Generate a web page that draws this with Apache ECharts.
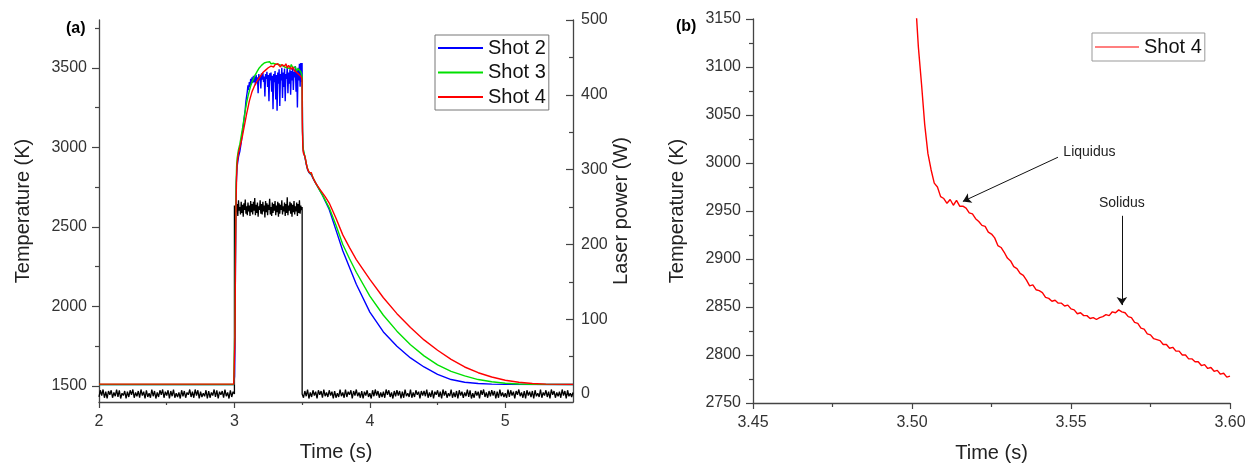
<!DOCTYPE html>
<html><head><meta charset="utf-8">
<script src="https://cdn.jsdelivr.net/npm/echarts@6/dist/echarts.min.js"></script>
<style>html,body{margin:0;padding:0;background:#fff}#c{width:1257px;height:463px}</style>
</head><body><div id="c"></div>
<script>
// ---------- DATA ----------
// Panel (a): temperature (K) vs time (s)
const shot2 = [[2.0,1509],[2.995,1509],[3.0,1510],[3.001,1560],[3.004,1750],[3.007,2200],[3.01,2550],[3.014,2780],[3.02,2880],[3.03,2940],[3.04,2975],[3.05,3030],[3.06,3100],[3.07,3170],[3.08,3240],[3.085,3290],
[3.090,3300],[3.095,3350],[3.100,3390],[3.105,3360],[3.110,3410],[3.115,3380],[3.120,3430],[3.125,3395],[3.130,3440],[3.135,3405],[3.140,3450],[3.145,3410],[3.150,3445],[3.155,3390],[3.160,3455],[3.165,3415],[3.170,3440],[3.175,3340],[3.180,3460],[3.185,3420],[3.190,3450],[3.195,3370],[3.200,3465],[3.205,3425],[3.210,3470],[3.215,3410],[3.220,3445],[3.225,3320],[3.230,3460],[3.235,3430],[3.240,3475],[3.245,3380],[3.250,3455],[3.255,3290],[3.260,3465],[3.265,3420],[3.270,3470],[3.275,3350],[3.280,3450],[3.285,3240],[3.290,3460],[3.295,3410],[3.300,3480],[3.305,3300],[3.310,3455],[3.315,3230],[3.320,3470],[3.325,3400],[3.330,3490],[3.335,3260],[3.340,3460],[3.345,3420],[3.350,3500],[3.355,3310],[3.360,3470],[3.365,3380],[3.370,3495],[3.375,3290],[3.380,3460],[3.385,3430],[3.390,3505],[3.395,3340],[3.400,3470],[3.405,3400],[3.410,3490],[3.415,3330],[3.420,3480],[3.425,3420],[3.430,3500],[3.435,3360],[3.440,3475],[3.445,3440],[3.450,3510],[3.455,3350],[3.460,3490],[3.465,3250],[3.470,3500],[3.475,3420],[3.480,3525],[3.485,3380],[3.490,3530],[3.495,3410],[3.4995,3530],
[3.503,3100],[3.506,3005],[3.51,2975],[3.515,2955],[3.52,2940],[3.53,2895],[3.54,2860],[3.55,2842],[3.56,2833],[3.57,2825],[3.58,2805],[3.60,2775],[3.65,2700],[3.70,2610],[3.75,2480],[3.80,2350],[3.85,2245],[3.90,2140],[4.0,1965],[4.1,1840],[4.2,1750],[4.3,1677],[4.4,1620],[4.5,1574],[4.6,1541],[4.7,1524],[4.8,1516],[4.9,1512],[5.0,1511],[5.5,1510]];

const shot3 = [[2.0,1510],[2.995,1510],[3.0,1512],[3.004,1900],[3.008,2450],[3.012,2750],[3.016,2880],[3.02,2930],[3.03,2985],[3.04,3020],[3.05,3070],[3.06,3120],[3.07,3175],[3.08,3230],[3.09,3280],[3.10,3320],[3.11,3355],[3.12,3385],[3.13,3410],[3.14,3430],[3.15,3450],[3.16,3465],[3.17,3480],[3.18,3495],[3.19,3500],[3.20,3515],[3.21,3520],[3.22,3530],[3.23,3525],[3.24,3535],[3.25,3530],[3.26,3538],[3.27,3525],[3.28,3535],[3.29,3528],[3.30,3536],[3.31,3522],[3.32,3532],[3.33,3520],[3.34,3528],[3.35,3515],[3.36,3525],[3.37,3505],[3.38,3515],[3.39,3500],[3.40,3510],[3.41,3495],[3.42,3520],[3.43,3500],[3.44,3490],[3.45,3505],[3.46,3480],[3.47,3495],[3.48,3505],[3.49,3475],[3.4995,3450],
[3.503,3100],[3.506,3010],[3.51,2980],[3.515,2960],[3.52,2945],[3.53,2900],[3.54,2865],[3.55,2845],[3.56,2835],[3.57,2830],[3.58,2810],[3.60,2775],[3.65,2700],[3.70,2620],[3.75,2510],[3.80,2390],[3.85,2300],[3.90,2215],[4.0,2065],[4.1,1945],[4.2,1845],[4.3,1760],[4.4,1690],[4.5,1633],[4.6,1592],[4.7,1564],[4.8,1541],[4.9,1527],[5.0,1518],[5.1,1513],[5.2,1511],[5.5,1510]];

const shot4Heat = [[2.0,1512],[2.5,1512],[2.995,1512],[3.0,1515],[3.004,1800],[3.008,2300],[3.012,2650],[3.016,2820],[3.02,2900],[3.03,2965],[3.04,3000],[3.05,3035],[3.06,3075],[3.07,3120],[3.08,3165],[3.09,3210],[3.10,3250],[3.11,3290],[3.12,3320],[3.13,3350],[3.14,3370],[3.15,3390],[3.16,3405],[3.17,3420],[3.18,3425],[3.19,3445],[3.20,3450],[3.21,3470],[3.22,3465],[3.23,3485],[3.24,3490],[3.25,3500],[3.26,3495],[3.27,3510],[3.28,3515],[3.29,3505],[3.30,3520],[3.31,3510],[3.32,3525],[3.33,3515],[3.34,3505],[3.35,3520],[3.36,3530],[3.37,3510],[3.38,3525],[3.39,3500],[3.40,3515],[3.41,3505],[3.42,3490],[3.43,3505],[3.44,3485],[3.45,3495],[3.46,3470],[3.47,3480],[3.48,3455],[3.49,3465],[3.495,3440],[3.4995,3420]];
const shot4Cool = [[3.61,2762],[3.62,2750],[3.63,2738],[3.65,2714],[3.67,2690],[3.70,2650],[3.75,2555],[3.80,2450],[3.85,2370],[3.90,2295],[4.0,2170],[4.1,2055],[4.2,1955],[4.3,1868],[4.4,1790],[4.5,1725],[4.6,1668],[4.7,1620],[4.8,1584],[4.9,1557],[5.0,1537],[5.1,1524],[5.2,1516],[5.3,1512],[5.5,1511]];

// Shot 4 detail, sampled every 1 ms from 3.500 s (panel b)
const shot4DetailStart = 3.5, shot4DetailStep = 0.001;
const shot4Detail = [3260,3175,3121,3082,3040,3010,2993,2979,2975,2965,2963,2958,2962,2956,2961,2955,2955,2953,2948,2947,2942,2939,2935,2934,2928,2926,2922,2914,2912,2907,2901,2898,2892,2890,2885,2883,2878,2872,2873,2868,2867,2865,2860,2859,2856,2857,2854,2854,2851,2852,2848,2847,2843,2844,2841,2841,2838,2839,2837,2839,2840,2842,2841,2845,2844,2847,2845,2844,2840,2839,2834,2833,2828,2827,2822,2821,2817,2816,2815,2811,2811,2807,2808,2804,2804,2800,2800,2796,2796,2793,2793,2789,2790,2786,2787,2783,2784,2780,2781,2777,2778];

// Laser power (W), sampled on regular time grids
const laserOff1 = {start:2.0, step:0.01, values:[
-4,5,-2,6,-5,3,-6,4,-1,5, -5,2,-3,6,-4,5,-6,1,-2,4, -6,3,-4,5,-1,6,-5,2,-3,4, -5,6,-2,3,-6,5,-4,1,-5,6, -3,4,-6,2,-4,5,-1,6,-5,3,
-2,5,-6,4,-3,6,-5,1,-4,2, -6,5,-3,4,-5,2,-1,6,-4,3, -5,6,-2,5,-6,3,-4,1,-3,5, -6,4,-5,2,-2,6,-4,5,-6,3, -1,4,-5,6,-3,2,-6,5,-4,3, 0]};
const laserOn = {start:3.0, step:0.005, values:[
252,241,256,243,254,238,259,245,250,240, 257,242,253,237,255,246,260,241,251,239, 256,244,252,238,258,243,254,240,257,245, 262,239,253,242,256,237,251,246,259,241, 254,240,257,244,252,236,258,243,255,239,
253,246,261,240,250,238,256,242,254,245, 258,239,252,243,257,237,255,241,253,246, 259,240,251,244,256,238,254,242,263,239, 252,245,257,241,255,237,253,243,258,240, 251,244,256,238,254,242,259,241,252,246, 250]};
const laserOff2 = {start:3.5, step:0.01, values:[
0,-5,4,-3,6,-6,2,-4,5,-2, 3,-6,5,-1,4,-5,6,-3,2,-4, 5,-2,3,-6,4,-5,1,-4,6,-3, 2,-5,6,-4,3,-1,5,-6,4,-2, 6,-3,2,-5,4,-6,3,-2,5,-4,
1,-6,5,-3,6,-2,4,-5,2,-4, 3,-5,6,-1,5,-4,2,-6,4,-3, 5,-2,4,-6,3,-5,6,-3,1,-4, 6,-5,2,-4,5,-1,3,-6,4,-2, 4,-3,6,-5,2,-4,5,-6,3,-1,
5,-4,3,-6,6,-2,4,-5,1,-3, 6,-5,2,-4,4,-6,5,-2,3,-5, 2,-3,6,-4,5,-6,1,-5,4,-2, 3,-6,5,-1,6,-4,2,-5,4,-3, 5,-2,4,-6,3,-5,6,-3,2,-4,
1,-5,6,-4,5,-2,3,-6,4,-1, 6,-3,2,-5,4,-6,5,-2,3,-4, 4,-6,5,-3,1,-4,6,-5,2,-2, 5,-4,3,-6,6,-1,4,-5,2,-3, 3,-5,6,-2,4,-6,5,-3,1,-4, 2]};

// Tick labels
const xTicksA = [2,3,4,5], xMinorA = [2.5,3.5,4.5];
const yTicksA = [1500,2000,2500,3000,3500], yMinorA = [1750,2250,2750,3250,3750];
const pTicksA = [0,100,200,300,400,500], pMinorA = [50,150,250,350,450];

// Annotations (panel b)
const liquidusArrow = [[3.5459,3006],[3.5160,2960]];
const solidusArrow = [[3.5660,2945],[3.5660,2852]];
const liquidusText = [3.5558,3011];
const solidusText = [3.5660,2958];

// ---------- BUILD ----------
const grid = (arr) => arr.values.map((v,i)=>[+(arr.start+i*arr.step).toFixed(4), v]);
const laser = grid(laserOff1).concat(grid(laserOn), grid(laserOff2));
const detail = shot4Detail.map((v,i)=>[+(shot4DetailStart+i*shot4DetailStep).toFixed(4), v]);
const shot4A = shot4Heat.concat(detail, shot4Cool);

const FONT = 'Liberation Sans, Arial, sans-serif';
const AX = '#444';
const LBL = {fontSize:16, color:'#333', fontFamily:FONT, formatter:(v)=>String(v)};
const NAME = {fontSize:20, color:'#222', fontFamily:FONT};

const chart = echarts.init(document.getElementById('c'), null, {renderer:'canvas'});
chart.setOption({
  animation:false,
  backgroundColor:'#fff',
  textStyle:{fontFamily:FONT},
  title:[
    {text:'(a)', left:61, top:16, textStyle:{fontSize:16, fontWeight:'bold', color:'#000', fontFamily:FONT}},
    {text:'(b)', left:671, top:14, textStyle:{fontSize:16, fontWeight:'bold', color:'#000', fontFamily:FONT}}
  ],
  grid:[
    {left:99, right:684, top:20, bottom:61, outerBoundsMode:'none', containLabel:false},
    {left:753, right:27, top:19, bottom:60, outerBoundsMode:'none', containLabel:false}
  ],
  legend:[
    {data:['Shot 2','Shot 3','Shot 4'], orient:'vertical', left:435, top:35, icon:'rect', itemWidth:45, itemHeight:2, itemGap:0.5,
     padding:[1,3,1,3], borderColor:'#777', borderWidth:1, backgroundColor:'#fff',
     textStyle:{fontSize:20, color:'#111', fontFamily:FONT, lineHeight:24}, selectedMode:false},
    {data:['Shot 4'], orient:'vertical', left:1092, top:33, icon:'rect', itemWidth:44, itemHeight:1.2,
     padding:[2,3,2,3], borderColor:'#999', borderWidth:1, backgroundColor:'#fff',
     textStyle:{fontSize:20, color:'#111', fontFamily:FONT, lineHeight:24}, selectedMode:false}
  ],
  xAxis:[
    {gridIndex:0, type:'value', position:'bottom', min:2, max:5.5,
     axisLine:{show:true, onZero:false, lineStyle:{color:AX, width:1.3}},
     axisTick:{show:true, customValues:xTicksA, length:6, lineStyle:{color:AX, width:1.2}},
     axisLabel:{customValues:xTicksA, margin:12, ...LBL},
     splitLine:{show:false},
     name:'Time (s)', nameLocation:'middle', nameGap:40, nameTextStyle:NAME},
    {gridIndex:0, type:'value', position:'bottom', min:2, max:5.5,
     axisLine:{show:false, onZero:false}, axisLabel:{show:false}, splitLine:{show:false},
     axisTick:{show:true, customValues:xMinorA, length:3, lineStyle:{color:AX, width:1.2}}},
    {gridIndex:1, type:'value', position:'bottom', min:3.45, max:3.60, interval:0.05,
     axisLine:{show:true, onZero:false, lineStyle:{color:AX, width:1.3}},
     axisTick:{show:true, length:6, lineStyle:{color:AX, width:1.2}},
     minorTick:{show:true, splitNumber:2, length:4, lineStyle:{color:AX, width:1.2}},
     axisLabel:{margin:12, ...LBL, formatter:(v)=>v.toFixed(2)},
     splitLine:{show:false},
     name:'Time (s)', nameLocation:'middle', nameGap:40, nameTextStyle:NAME}
  ],
  yAxis:[
    {gridIndex:0, type:'value', min:1400, max:3800, position:'left',
     axisLine:{show:true, onZero:false, lineStyle:{color:AX, width:1.3}},
     axisTick:{show:true, customValues:yTicksA, length:7, lineStyle:{color:AX, width:1.2}},
     axisLabel:{customValues:yTicksA, margin:12, ...LBL},
     splitLine:{show:false},
     name:'Temperature (K)', nameLocation:'middle', nameRotate:90, nameGap:66, nameTextStyle:NAME},
    {gridIndex:0, type:'value', min:1400, max:3800, position:'left',
     axisLine:{show:false, onZero:false}, axisLabel:{show:false}, splitLine:{show:false},
     axisTick:{show:true, customValues:yMinorA, length:4, lineStyle:{color:AX, width:1.2}}},
    {gridIndex:0, type:'value', min:-10.7, max:500, position:'right',
     axisLine:{show:true, onZero:false, lineStyle:{color:AX, width:1.3}},
     axisTick:{show:true, inside:true, customValues:pTicksA, length:7, lineStyle:{color:AX, width:1.2}},
     axisLabel:{customValues:pTicksA, margin:8, ...LBL},
     splitLine:{show:false},
     name:'Laser power (W)', nameLocation:'middle', nameRotate:90, nameGap:38, nameTextStyle:NAME},
    {gridIndex:0, type:'value', min:-10.7, max:500, position:'right',
     axisLine:{show:false, onZero:false}, axisLabel:{show:false}, splitLine:{show:false},
     axisTick:{show:true, inside:true, customValues:pMinorA, length:4, lineStyle:{color:AX, width:1.2}}},
    {gridIndex:1, type:'value', min:2750, max:3150, interval:50, position:'left',
     axisLine:{show:true, onZero:false, lineStyle:{color:AX, width:1.3}},
     axisTick:{show:true, length:7, lineStyle:{color:AX, width:1.2}},
     minorTick:{show:true, splitNumber:2, length:4, lineStyle:{color:AX, width:1.2}},
     axisLabel:{margin:12, ...LBL},
     splitLine:{show:false},
     name:'Temperature (K)', nameLocation:'middle', nameRotate:90, nameGap:66, nameTextStyle:NAME}
  ],
  series:[
    {name:'Laser', type:'line', xAxisIndex:0, yAxisIndex:2, data:laser, symbol:'none',
     lineStyle:{color:'#000', width:1.3}, itemStyle:{color:'#000'}, silent:true, z:1},
    {name:'Shot 2', type:'line', xAxisIndex:0, yAxisIndex:0, data:shot2, symbol:'none',
     lineStyle:{color:'#0000ff', width:1.4}, itemStyle:{color:'#0000ff'}, z:2},
    {name:'Shot 3', type:'line', xAxisIndex:0, yAxisIndex:0, data:shot3, symbol:'none',
     lineStyle:{color:'#00e000', width:1.4}, itemStyle:{color:'#00e000'}, z:3},
    {name:'Shot 4', type:'line', xAxisIndex:0, yAxisIndex:0, data:shot4A, symbol:'none',
     lineStyle:{color:'#ff0000', width:1.4}, itemStyle:{color:'#ff0000'}, z:4},
    {name:'Shot 4', type:'line', xAxisIndex:2, yAxisIndex:4, data:detail, symbol:'none', clip:true,
     lineStyle:{color:'#ff0000', width:1.4}, itemStyle:{color:'#ff0000'}, z:4,
     markLine:{silent:true, symbol:['none','arrow'], symbolSize:8, label:{show:false},
       lineStyle:{color:'#111', width:1, type:'solid'},
       data:[[{coord:liquidusArrow[0]},{coord:liquidusArrow[1]}],
             [{coord:solidusArrow[0]},{coord:solidusArrow[1]}]]},
     markPoint:{silent:true, symbol:'circle', symbolSize:1, itemStyle:{color:'rgba(0,0,0,0)'},
       label:{show:true, position:'inside', formatter:'{b}', fontSize:14, color:'#222', fontFamily:FONT},
       data:[{name:'Liquidus', coord:liquidusText}, {name:'Solidus', coord:solidusText}]}}
  ]
});
</script></body></html>
